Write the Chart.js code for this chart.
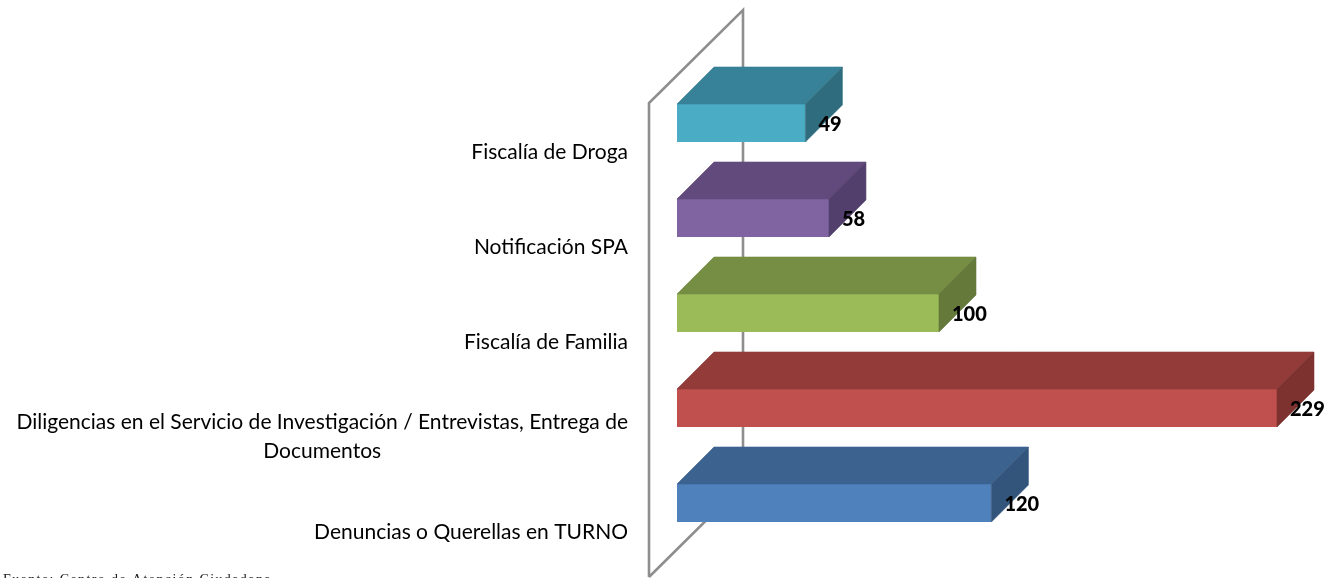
<!DOCTYPE html>
<html lang="es">
<head>
<meta charset="utf-8">
<title>Chart</title>
<style>html,body{margin:0;padding:0;background:#fff;overflow:hidden}canvas{display:block}</style>
<script src="https://cdn.jsdelivr.net/npm/chart.js@4"></script>
</head>
<body>
<canvas id="c" width="1331" height="578"></canvas>
<script>
const categories = [
  "Fiscalía de Droga",
  "Notificación SPA",
  "Fiscalía de Familia",
  ["Diligencias en el Servicio de Investigación / Entrevistas, Entrega de", "Documentos"],
  "Denuncias o Querellas en TURNO"
];
const values = [49, 58, 100, 229, 120];
const frontColors = ["#4bacc6", "#8064a2", "#9bbb59", "#c0504d", "#4f81bd"];
const topColors = ["#388299", "#624b7c", "#758e44", "#923b39", "#3c6290"];
const sideColors = ["#2f6d7e", "#533f6b", "#64793a", "#7e3230", "#33547b"];
const sourceNote = "Fuente: Centro de Atención Ciudadana";

const DEPTH = 37;
const FONT = "Lato, 'Open Sans', sans-serif";

function poly(ctx, pts, fill) {
  ctx.beginPath();
  pts.forEach((p, i) => i ? ctx.lineTo(p[0], p[1]) : ctx.moveTo(p[0], p[1]));
  ctx.closePath();
  ctx.fillStyle = fill;
  ctx.fill();
  ctx.strokeStyle = fill;
  ctx.lineWidth = 0.6;
  ctx.stroke();
}

const wall3d = {
  id: "wall3d",
  beforeDatasetsDraw(chart) {
    const { ctx } = chart;
    const x0 = chart.scales.x.getPixelForValue(0);
    const fx = x0 - 28, bx = fx + 94;
    ctx.save();
    ctx.strokeStyle = "#8e8e8e";
    ctx.lineWidth = 2.6;
    ctx.lineJoin = "miter";
    ctx.beginPath();
    ctx.moveTo(fx, 577);
    ctx.lineTo(fx, 103);
    ctx.lineTo(bx, 10);
    ctx.lineTo(bx, 484);
    ctx.lineTo(fx, 577);
    ctx.stroke();
    ctx.restore();
  }
};

const bars3d = {
  id: "bars3d",
  afterDatasetsDraw(chart) {
    const { ctx } = chart;
    const meta = chart.getDatasetMeta(0);
    ctx.save();
    meta.data.forEach((bar, i) => {
      const top = bar.y - bar.height / 2, bot = bar.y + bar.height / 2;
      const l = bar.base, r = bar.x;
      poly(ctx, [[l, top], [r, top], [r + DEPTH, top - DEPTH], [l + DEPTH, top - DEPTH]], topColors[i]);
      poly(ctx, [[r, top], [r + DEPTH, top - DEPTH], [r + DEPTH, bot - DEPTH], [r, bot]], sideColors[i]);
    });
    ctx.fillStyle = "#000";
    ctx.font = "900 20px " + FONT;
    ctx.textAlign = "left";
    ctx.textBaseline = "middle";
    meta.data.forEach((bar, i) => {
      ctx.fillText(String(values[i]), bar.x + 13, bar.y + 2);
    });
    // category labels: block right-aligned, lines centred within the block
    const y = chart.scales.y;
    ctx.font = "21px " + FONT;
    ctx.textAlign = "center";
    const rightEdge = 628, lh = 29;
    categories.forEach((c, i) => {
      const lines = Array.isArray(c) ? c : [c];
      const w = Math.max(...lines.map(t => ctx.measureText(t).width));
      const cy = y.getPixelForValue(i) + 29 - (lines.length - 1) * lh / 2;
      lines.forEach((t, k) => ctx.fillText(t, rightEdge - w / 2, cy + k * lh));
    });
    // source note, cut by the bottom edge
    ctx.fillStyle = "#222";
    ctx.font = "14px 'Liberation Serif', serif";
    ctx.letterSpacing = "1.4px";
    ctx.textAlign = "left";
    ctx.textBaseline = "alphabetic";
    ctx.fillText(sourceNote, 3, 584);
    ctx.restore();
  }
};

new Chart(document.getElementById("c"), {
  type: "bar",
  data: {
    labels: categories,
    datasets: [{
      data: values,
      backgroundColor: frontColors,
      borderWidth: 0,
      barPercentage: 0.4,
      categoryPercentage: 1
    }]
  },
  plugins: [wall3d, bars3d],
  options: {
    indexAxis: "y",
    responsive: false,
    animation: false,
    layout: { padding: { left: 0, right: 25.2, top: 75.5, bottom: 27.5 } },
    plugins: { legend: { display: false }, tooltip: { enabled: false } },
    scales: {
      x: { display: false, min: 0, max: 240 },
      y: {
        grid: { display: false },
        border: { display: false },
        ticks: { display: false },
        afterFit(s) { s.width = 677; }
      }
    }
  }
});
</script>
</body>
</html>
